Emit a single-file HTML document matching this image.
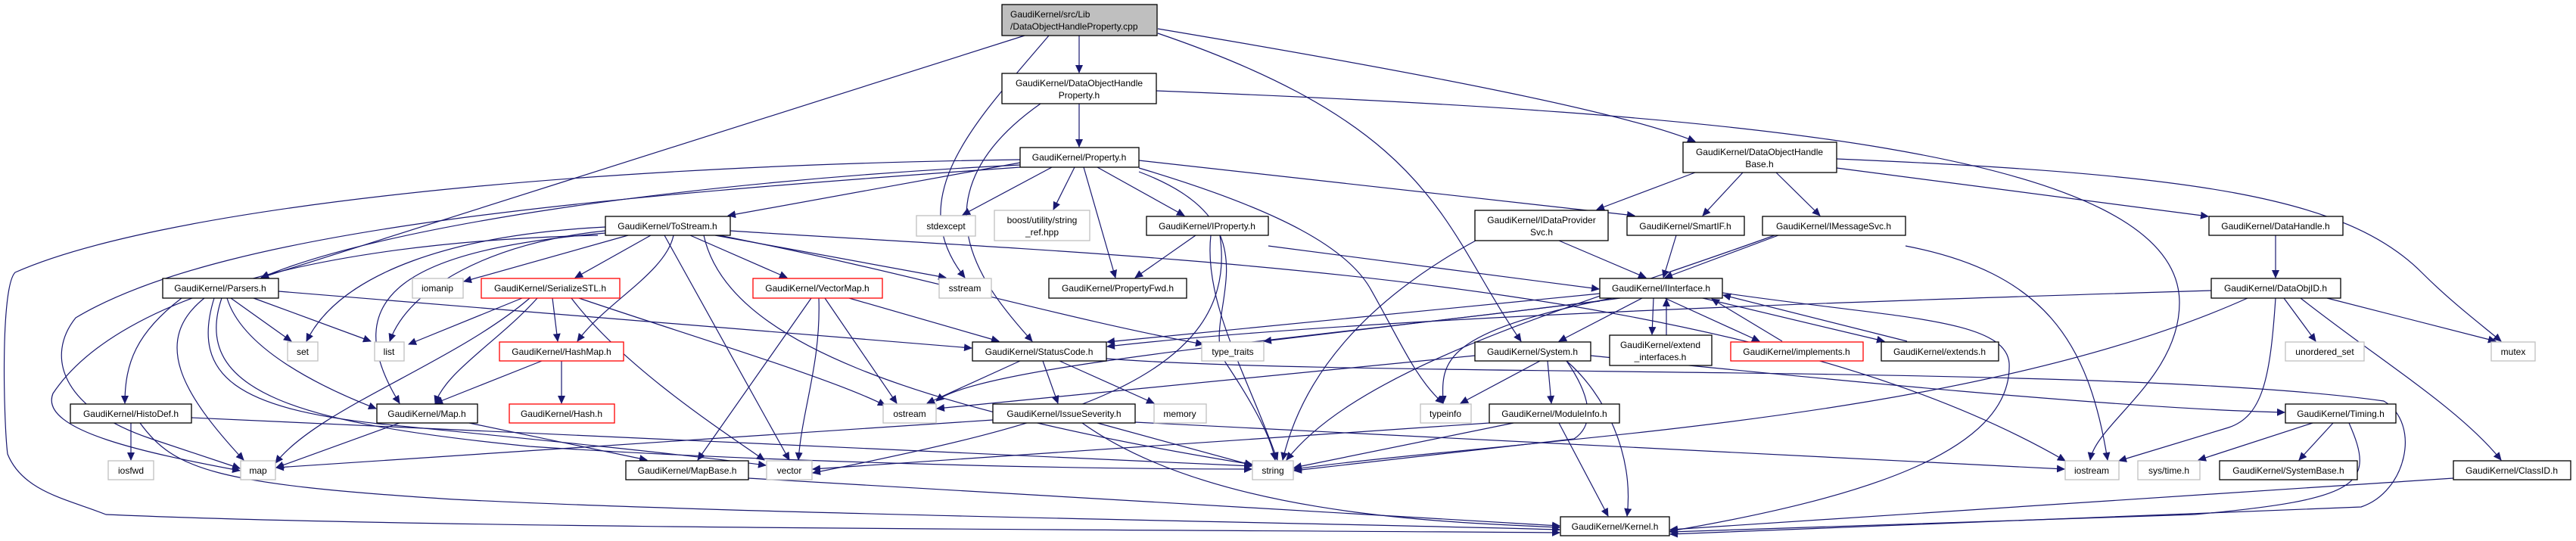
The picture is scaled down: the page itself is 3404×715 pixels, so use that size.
<!DOCTYPE html>
<html><head><meta charset="utf-8"><style>
html,body{margin:0;padding:0;background:#fff;}
svg{display:block;}
text{font-family:"Liberation Sans",Arial,sans-serif;font-size:12px;fill:#000;}
.e{fill:none;stroke:#191970;stroke-width:1.2;}
.n{fill:#fff;stroke:#000;stroke-width:1.3;}
.g{fill:#fff;stroke:#bfbfbf;stroke-width:1.3;}
.r{fill:#fff;stroke:#ff0000;stroke-width:1.3;}
</style></head><body>
<svg width="3404" height="715" viewBox="0 0 3404 715" xmlns="http://www.w3.org/2000/svg">
<defs><marker id="a" markerWidth="11" markerHeight="10" refX="10" refY="5" orient="auto" markerUnits="userSpaceOnUse"><path d="M0,0 L11,5 L0,10 z" fill="#191970"/></marker></defs>
<g class="e" marker-end="url(#a)">
<path d="M1426,47 L1426,96"/>
<path d="M1354,47 L345,367"/>
<path d="M1386,47 C1290,160 1190,260 1275,367"/>
<path d="M1530,44 C1900,170 1905,300 2010,451"/>
<path d="M1530,38 C1900,100 2150,150 2240,187"/>
<path d="M1528,120 C2300,150 2880,200 2880,400 C2880,500 2770,560 2762,608"/>
<path d="M1375,137 C1200,260 1300,380 1364,451"/>
<path d="M1426,137 L1426,194"/>
<path d="M2240,228 L2110,277"/>
<path d="M2303,228 L2250,285"/>
<path d="M2347,228 L2405,285"/>
<path d="M2427,222 L2918,286"/>
<path d="M2427,210 C2900,230 3100,260 3200,360 C3240,400 3280,430 3305,451"/>
<path d="M3007,311 L3007,367"/>
<path d="M3018,394 L3060,451"/>
<path d="M3075,394 L3298,451"/>
<path d="M3040,394 C3150,480 3250,540 3305,608"/>
<path d="M3007,394 C3000,500 2990,550 2945,565 L2800,609"/>
<path d="M2922,384 C2400,400 1800,420 1463,458"/>
<path d="M2970,394 C2600,560 2000,580 1710,620"/>
<path d="M3242,632 L2207,700"/>
<path d="M3056,559 L2905,608"/>
<path d="M3083,559 L3038,608"/>
<path d="M3104,559 C3140,640 3120,660 2900,680 L2207,703"/>
<path d="M2102,470 C2400,500 2800,540 3019,545"/>
<path d="M2035,477 L1930,533"/>
<path d="M2045,477 L2050,533"/>
<path d="M2070,477 C2120,520 2160,600 2150,682"/>
<path d="M1949,470 L1238,540"/>
<path d="M2070,477 C2100,520 2110,560 2080,580 L1710,622"/>
<path d="M1500,558 L2728,620"/>
<path d="M1462,474 C1800,500 2800,480 3150,530 C3200,560 3180,650 3120,670 L2207,706"/>
<path d="M2000,559 L1710,618"/>
<path d="M2060,559 L2125,682"/>
<path d="M1968,559 L1074,620"/>
<path d="M1450,559 L1655,615"/>
<path d="M1430,559 C1600,680 1900,690 2061,697"/>
<path d="M1312,555 L365,618"/>
<path d="M1348,477 L1225,533"/>
<path d="M1378,477 L1398,533"/>
<path d="M1400,477 L1525,533"/>
<path d="M2114,388 L1463,452"/>
<path d="M2114,398 L1670,451"/>
<path d="M2170,394 L2060,451"/>
<path d="M2130,394 C1900,440 1905,480 1907,533"/>
<path d="M2141,394 C1800,440 1300,480 1237,530"/>
<path d="M2185,394 L2183,442"/>
<path d="M2202,443 L2202,395"/>
<path d="M2200,394 L2325,451"/>
<path d="M2355,451 L2262,395"/>
<path d="M2250,394 L2490,451"/>
<path d="M2520,451 L2277,390"/>
<path d="M2276,387 C2500,420 2650,420 2655,480 C2660,600 2450,660 2207,702"/>
<path d="M2060,318 L2175,367"/>
<path d="M2350,311 L2200,367"/>
<path d="M2215,311 L2198,367"/>
<path d="M2518,325 C2700,360 2760,450 2785,608"/>
<path d="M1950,318 C1800,400 1720,500 1695,608"/>
<path d="M2345,311 C2100,400 1800,480 1700,608"/>
<path d="M1580,311 L1500,367"/>
<path d="M1676,325 L2113,382"/>
<path d="M1600,311 C1590,400 1650,500 1688,608"/>
<path d="M1612,311 C1640,500 1400,560 1074,625"/>
<path d="M1348,215 L962,285"/>
<path d="M1348,218 C900,240 500,300 345,367"/>
<path d="M1348,211 C700,220 200,280 20,360 C0,380 5,560 10,600 C30,650 90,660 140,680 C600,700 1600,700 2061,704"/>
<path d="M1348,221 C800,260 300,300 100,420 C60,470 80,540 200,580 L317,619"/>
<path d="M1390,221 L1272,284"/>
<path d="M1420,221 L1392,277"/>
<path d="M1450,221 L1565,285"/>
<path d="M1432,221 L1474,367"/>
<path d="M1505,227 C1700,300 1580,420 1620,480 C1660,540 1680,580 1685,608"/>
<path d="M1505,222 C1700,280 1780,330 1810,380 C1850,450 1870,500 1907,533"/>
<path d="M1505,212 L2160,285"/>
<path d="M800,300 C600,310 450,360 405,451"/>
<path d="M800,305 C650,320 540,380 515,451"/>
<path d="M830,311 L613,372"/>
<path d="M860,311 L760,367"/>
<path d="M800,308 C540,330 440,390 528,533"/>
<path d="M912,311 L1040,367"/>
<path d="M890,311 C880,360 800,400 763,451"/>
<path d="M878,311 L1043,608"/>
<path d="M930,311 C960,450 1200,540 1655,614"/>
<path d="M945,311 L1250,367"/>
<path d="M950,311 C1200,360 1400,420 1590,455"/>
<path d="M965,305 C1500,340 2300,360 2729,609"/>
<path d="M790,311 C400,320 150,400 70,520 C50,570 200,600 317,622"/>
<path d="M368,385 L1284,460"/>
<path d="M305,394 L385,451"/>
<path d="M335,394 L490,451"/>
<path d="M300,394 C320,460 420,510 497,540"/>
<path d="M270,394 C200,450 240,520 322,608"/>
<path d="M283,394 C250,500 320,540 500,560 C700,580 900,600 1012,615"/>
<path d="M293,394 C250,520 400,560 700,590 C1000,610 1400,620 1654,620"/>
<path d="M240,394 C180,440 165,480 165,533"/>
<path d="M173,559 L173,608"/>
<path d="M253,552 L1654,616"/>
<path d="M185,559 C230,620 280,640 600,660 C1000,680 1700,690 2061,700"/>
<path d="M528,559 L365,618"/>
<path d="M620,559 L855,608"/>
<path d="M989,632 L2061,695"/>
<path d="M716,477 L575,533"/>
<path d="M742,477 L742,533"/>
<path d="M690,394 L540,455"/>
<path d="M730,394 L737,451"/>
<path d="M710,394 C660,450 590,490 575,533"/>
<path d="M700,394 C600,480 420,540 364,612"/>
<path d="M755,394 C820,480 940,560 1010,608"/>
<path d="M765,394 C900,440 1100,500 1170,536"/>
<path d="M1072,394 L922,608"/>
<path d="M1082,394 C1085,480 1060,540 1055,608"/>
<path d="M1090,394 L1185,533"/>
<path d="M1122,394 L1320,451"/>
</g>
<g>
<rect x="1324" y="6" width="205" height="41" fill="#bfbfbf" stroke="#000" stroke-width="1.3"/>
<text x="1335" y="23">GaudiKernel/src/Lib</text><text x="1335" y="39">/DataObjectHandleProperty.cpp</text>
</g>
<g text-anchor="middle">
<rect class="n" x="1324" y="97" width="204" height="40"/><text x="1426" y="114">GaudiKernel/DataObjectHandle</text><text x="1426" y="130">Property.h</text>
<rect class="n" x="1348" y="195" width="157" height="26"/><text x="1426" y="212">GaudiKernel/Property.h</text>
<rect class="n" x="800" y="286" width="165" height="25"/><text x="882" y="303">GaudiKernel/ToStream.h</text>
<rect class="g" x="1211" y="285" width="78" height="27"/><text x="1250" y="303">stdexcept</text>
<rect class="g" x="1314" y="278" width="126" height="40"/><text x="1377" y="295">boost/utility/string</text><text x="1377" y="311">_ref.hpp</text>
<rect class="n" x="1515" y="286" width="161" height="25"/><text x="1595" y="303">GaudiKernel/IProperty.h</text>
<rect class="n" x="1949" y="278" width="176" height="40"/><text x="2037" y="295">GaudiKernel/IDataProvider</text><text x="2037" y="311">Svc.h</text>
<rect class="n" x="2150" y="286" width="155" height="25"/><text x="2227" y="303">GaudiKernel/SmartIF.h</text>
<rect class="n" x="2224" y="188" width="203" height="40"/><text x="2325" y="205">GaudiKernel/DataObjectHandle</text><text x="2325" y="221">Base.h</text>
<rect class="n" x="2329" y="286" width="189" height="25"/><text x="2423" y="303">GaudiKernel/IMessageSvc.h</text>
<rect class="n" x="2919" y="286" width="177" height="25"/><text x="3007" y="303">GaudiKernel/DataHandle.h</text>
<rect class="n" x="215" y="368" width="153" height="26"/><text x="291" y="385">GaudiKernel/Parsers.h</text>
<rect class="g" x="545" y="368" width="67" height="26"/><text x="578" y="385">iomanip</text>
<rect class="r" x="636" y="368" width="183" height="26"/><text x="727" y="385">GaudiKernel/SerializeSTL.h</text>
<rect class="r" x="995" y="368" width="171" height="26"/><text x="1080" y="385">GaudiKernel/VectorMap.h</text>
<rect class="g" x="1241" y="368" width="69" height="26"/><text x="1275" y="385">sstream</text>
<rect class="n" x="1386" y="368" width="182" height="26"/><text x="1477" y="385">GaudiKernel/PropertyFwd.h</text>
<rect class="n" x="2114" y="368" width="162" height="26"/><text x="2195" y="385">GaudiKernel/IInterface.h</text>
<rect class="n" x="2922" y="368" width="171" height="26"/><text x="3007" y="385">GaudiKernel/DataObjID.h</text>
<rect class="g" x="380" y="452" width="40" height="25"/><text x="400" y="469">set</text>
<rect class="g" x="495" y="452" width="39" height="25"/><text x="514" y="469">list</text>
<rect class="r" x="660" y="452" width="164" height="25"/><text x="742" y="469">GaudiKernel/HashMap.h</text>
<rect class="n" x="1285" y="452" width="177" height="25"/><text x="1373" y="469">GaudiKernel/StatusCode.h</text>
<rect class="g" x="1588" y="452" width="82" height="25"/><text x="1629" y="469">type_traits</text>
<rect class="n" x="1949" y="452" width="153" height="25"/><text x="2025" y="469">GaudiKernel/System.h</text>
<rect class="n" x="2127" y="443" width="135" height="40"/><text x="2194" y="460">GaudiKernel/extend</text><text x="2194" y="476">_interfaces.h</text>
<rect class="r" x="2287" y="452" width="175" height="25"/><text x="2374" y="469">GaudiKernel/implements.h</text>
<rect class="n" x="2486" y="452" width="155" height="25"/><text x="2563" y="469">GaudiKernel/extends.h</text>
<rect class="g" x="3020" y="452" width="104" height="25"/><text x="3072" y="469">unordered_set</text>
<rect class="g" x="3292" y="452" width="58" height="25"/><text x="3321" y="469">mutex</text>
<rect class="n" x="93" y="534" width="160" height="25"/><text x="173" y="551">GaudiKernel/HistoDef.h</text>
<rect class="n" x="498" y="534" width="133" height="25"/><text x="564" y="551">GaudiKernel/Map.h</text>
<rect class="r" x="673" y="534" width="139" height="25"/><text x="742" y="551">GaudiKernel/Hash.h</text>
<rect class="g" x="1167" y="534" width="70" height="25"/><text x="1202" y="551">ostream</text>
<rect class="n" x="1312" y="534" width="188" height="25"/><text x="1406" y="551">GaudiKernel/IssueSeverity.h</text>
<rect class="g" x="1525" y="534" width="69" height="25"/><text x="1559" y="551">memory</text>
<rect class="g" x="1877" y="534" width="67" height="25"/><text x="1910" y="551">typeinfo</text>
<rect class="n" x="1968" y="534" width="172" height="25"/><text x="2054" y="551">GaudiKernel/ModuleInfo.h</text>
<rect class="n" x="3020" y="534" width="146" height="25"/><text x="3093" y="551">GaudiKernel/Timing.h</text>
<rect class="g" x="143" y="609" width="60" height="25"/><text x="173" y="626">iosfwd</text>
<rect class="g" x="318" y="609" width="46" height="25"/><text x="341" y="626">map</text>
<rect class="n" x="827" y="609" width="162" height="25"/><text x="908" y="626">GaudiKernel/MapBase.h</text>
<rect class="g" x="1013" y="609" width="60" height="25"/><text x="1043" y="626">vector</text>
<rect class="g" x="1655" y="609" width="54" height="25"/><text x="1682" y="626">string</text>
<rect class="g" x="2729" y="609" width="71" height="25"/><text x="2764" y="626">iostream</text>
<rect class="g" x="2825" y="609" width="82" height="25"/><text x="2866" y="626">sys/time.h</text>
<rect class="n" x="2933" y="609" width="182" height="25"/><text x="3024" y="626">GaudiKernel/SystemBase.h</text>
<rect class="n" x="3242" y="609" width="155" height="25"/><text x="3319" y="626">GaudiKernel/ClassID.h</text>
<rect class="n" x="2062" y="683" width="144" height="25"/><text x="2134" y="700">GaudiKernel/Kernel.h</text>
</g>
</svg>
</body></html>
